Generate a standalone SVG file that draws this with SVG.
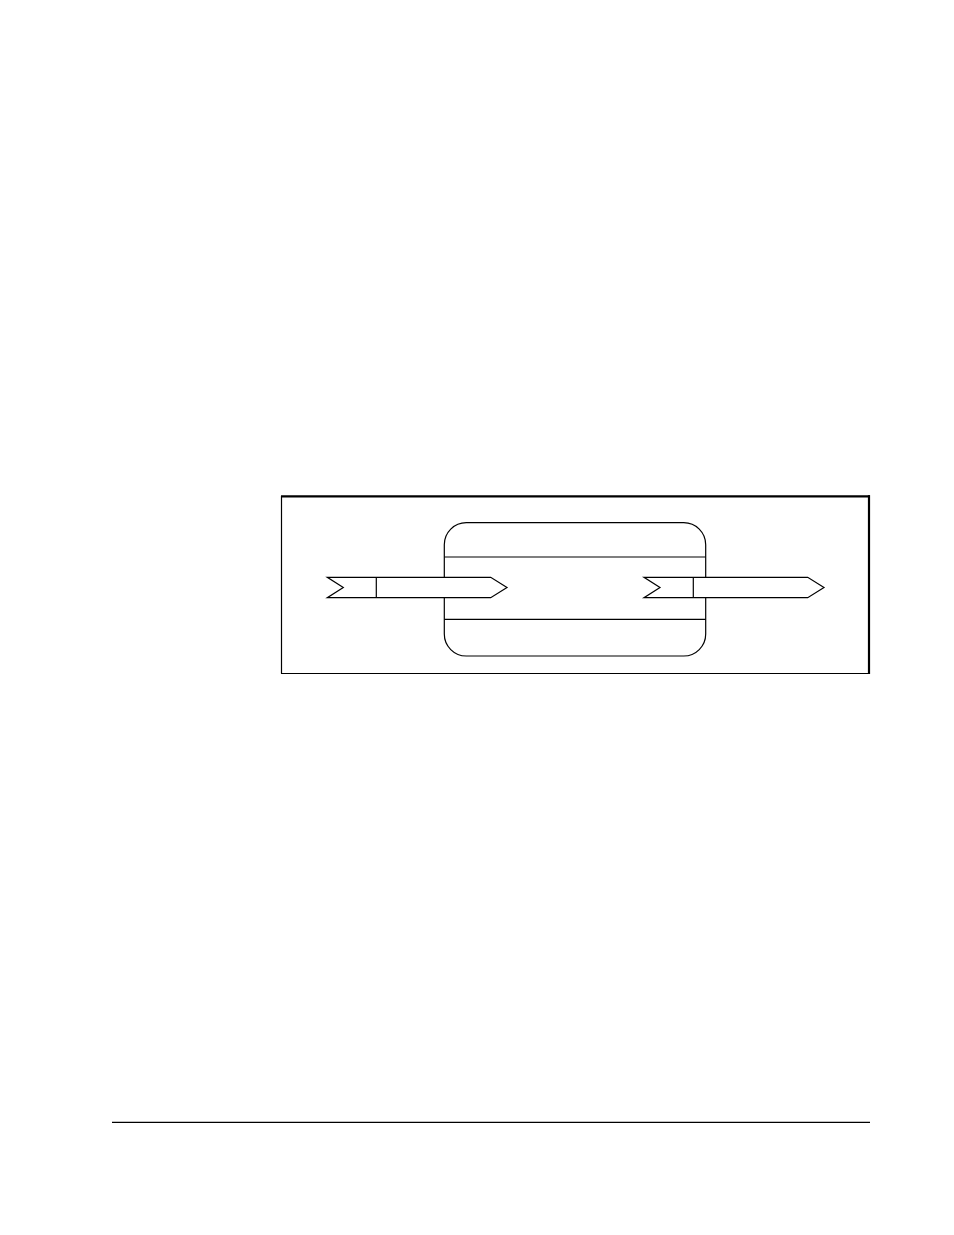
<svg xmlns="http://www.w3.org/2000/svg" width="954" height="1235" viewBox="0 0 954 1235">
<style>
.ln{fill:none;stroke:#000;stroke-width:1.2}
.arrow{fill:#fff;stroke:#000;stroke-width:1.2;stroke-linejoin:miter}
</style>
<rect width="954" height="1235" fill="#fff"/>
<g id="frame">
<line class="ln" x1="281.5" y1="496" x2="281.5" y2="673.5"/>
<line class="ln" x1="281" y1="673.5" x2="870" y2="673.5"/>
<line x1="281" y1="496.3" x2="870" y2="496.3" stroke="#000" stroke-width="2.2"/>
<line x1="869" y1="495.2" x2="869" y2="674" stroke="#000" stroke-width="2.2"/>
</g>
<g id="process">
<rect class="ln" x="444.3" y="522.7" width="261.4" height="133.3" rx="22" ry="22"/>
<line class="ln" x1="444.3" y1="557" x2="705.7" y2="557"/>
<line class="ln" x1="444.3" y1="619.3" x2="705.7" y2="619.3"/>
</g>
<g id="connectors">
<g id="input-arrow">
<polygon class="arrow" points="327.3,577.3 490.7,577.3 507,587.5 490.7,597.7 327.3,597.7 343.3,587.5"/>
<line class="ln" x1="376.3" y1="577.3" x2="376.3" y2="597.7"/>
</g>
<g id="output-arrow">
<polygon class="arrow" points="644,577.3 807.7,577.3 824,587.5 807.7,597.7 644,597.7 660,587.5"/>
<line class="ln" x1="693.3" y1="577.3" x2="693.3" y2="597.7"/>
</g>
</g>
<g id="rule">
<line class="ln" x1="112" y1="1122.3" x2="870" y2="1122.3"/>
</g>
</svg>
